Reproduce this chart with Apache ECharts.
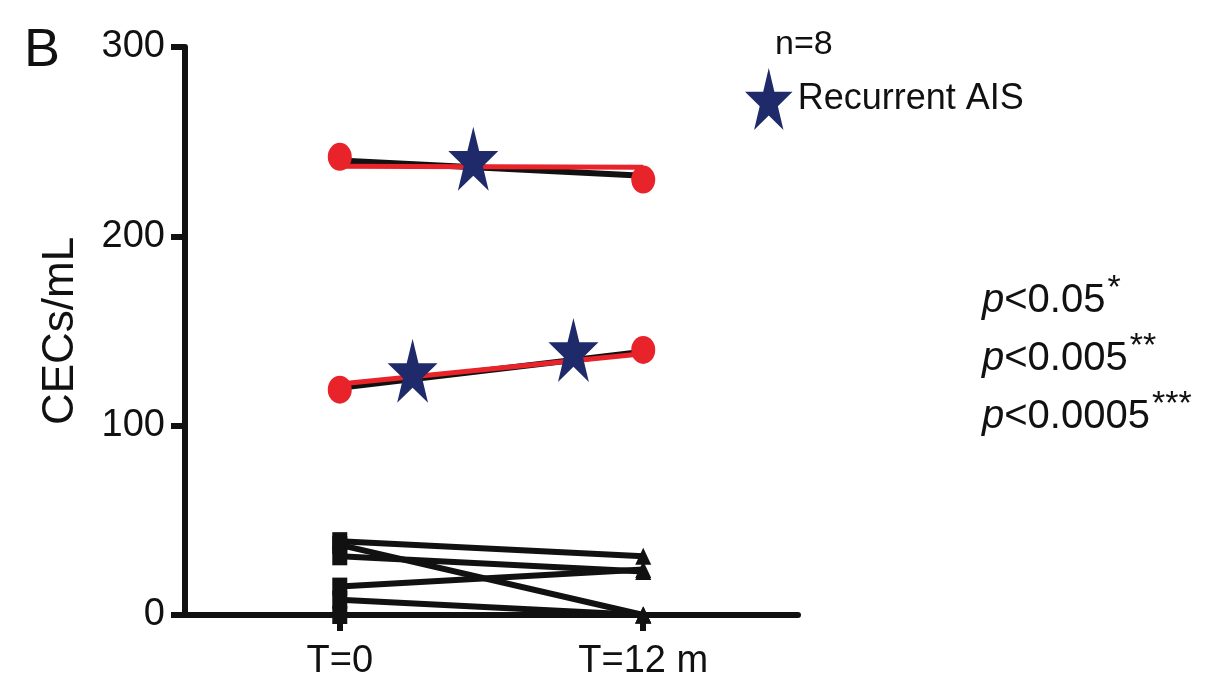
<!DOCTYPE html>
<html lang="en">
<head>
<meta charset="UTF-8">
<title>CECs/mL</title>
<style>
    * { margin: 0; padding: 0; }
    #chart { width: 1227px; height: 682px; background: #fff; }
</style>
<script src="https://cdn.jsdelivr.net/npm/echarts@6/dist/echarts.min.js"></script>
</head>
<body>
<div id="chart"></div>
<script>
// time points (x = 0, 1)
var timeLabels = ['T=0', 'T=12 m'];
var yTicks = [0, 100, 200, 300];

// black patient lines: [T=0, T=12 m]
var blackPairs = [
    [39, 31],
    [37, 0],
    [31, 23],
    [15, 24],
    [8, 0],
    [0, 0]
];
// recurrent AIS patients: black individual line + red overlay + red end dots
var recurBlack = [[240, 232], [120, 139]];
var recurRed = [[237, 236.5], [122, 138]];
var recurDots = [[242, 230], [119, 140]];
// stars (x position between time points, value)
var starX = [0.44, 0.24, 0.77];
var starY = [241, 129, 140];

var FONT = 'Liberation Sans, Arial, sans-serif';
// five-point star, drawn taller than wide like the reference
var STAR = 'path://M50,0 L61.8,49.7 L100,49.7 L69.1,80.5 L80.9,130.4 L50,99.7 L19.1,130.4 L30.9,80.5 L0,49.7 L38.2,49.7 Z';
var chart = echarts.init(document.getElementById('chart'));

var series = [];
blackPairs.forEach(function (p) {
    series.push({
        type: 'line',
        data: [
            { value: [0, p[0]], symbol: 'rect', symbolSize: [15, 18] },
            { value: [1, p[1]], symbol: 'triangle', symbolSize: [16, 17] }
        ],
        lineStyle: { color: '#111', width: 6 },
        itemStyle: { color: '#111' },
        z: 3, silent: true
    });
});
recurBlack.forEach(function (p) {
    series.push({
        type: 'line', data: [[0, p[0]], [1, p[1]]], symbol: 'none',
        lineStyle: { color: '#111', width: 6 }, z: 3, silent: true
    });
});
recurRed.forEach(function (p) {
    series.push({
        type: 'line', data: [[0, p[0]], [1, p[1]]], symbol: 'none',
        lineStyle: { color: '#e8232a', width: 5 }, z: 4, silent: true
    });
});
recurDots.forEach(function (p) {
    series.push({
        type: 'scatter', data: [[0, p[0]], [1, p[1]]], symbol: 'circle',
        symbolSize: [24, 28], itemStyle: { color: '#e8232a', opacity: 1 }, z: 5, silent: true
    });
});
series.push({
    name: 'Recurrent AIS',
    type: 'scatter',
    data: starX.map(function (x, i) { return [x, starY[i]]; }),
    symbol: STAR,
    symbolSize: [50, 64],
    itemStyle: { color: '#1f2a6b', opacity: 1 },
    z: 6, silent: true
});

var option = {
    animation: false,
    textStyle: { fontFamily: FONT },
    grid: { left: 185, top: 47, width: 613, height: 568 },
    legend: {
        left: 740, top: 63,
        itemWidth: 48, itemHeight: 62, itemGap: 14,
        icon: STAR,
        textStyle: { fontSize: 36, color: '#111', fontFamily: FONT },
        data: ['Recurrent AIS']
    },
    xAxis: {
        type: 'value', min: -0.51, max: 1.51,
        splitLine: { show: false },
        axisLine: { onZero: false, lineStyle: { color: '#111', width: 6 } },
        axisTick: { customValues: [0, 1], length: 16, lineStyle: { color: '#111', width: 6 } },
        axisLabel: {
            customValues: [0, 1], margin: 28, fontSize: 38, color: '#111', fontFamily: FONT,
            formatter: function (v) { return timeLabels[Math.round(v)]; }
        }
    },
    yAxis: {
        type: 'value', min: yTicks[0], max: yTicks[yTicks.length - 1], interval: 100,
        name: 'CECs/mL', nameLocation: 'middle', nameRotate: 90, nameGap: 102,
        nameTextStyle: { fontSize: 44, color: '#111', fontFamily: FONT },
        splitLine: { show: false },
        axisLine: { onZero: false, lineStyle: { color: '#111', width: 6 } },
        axisTick: { length: 14, lineStyle: { color: '#111', width: 6 } },
        axisLabel: { margin: 20, fontSize: 38, color: '#111', fontFamily: FONT }
    },
    graphic: [
        { type: 'text', left: 24, top: 24, style: { text: 'B', fontSize: 54, fill: '#111', fontFamily: FONT } },
        { type: 'text', left: 775, top: 28, style: { text: 'n=8', fontSize: 34, fill: '#111', fontFamily: FONT } },
        {
            type: 'text', left: 982, top: 272,
            style: {
                text: '{i|p}<0.05{s|*}\n{i|p}<0.005{s|**}\n{i|p}<0.0005{s|***}',
                fontSize: 40, lineHeight: 58, fill: '#111', fontFamily: FONT,
                rich: {
                    i: { fontStyle: 'italic', fontSize: 40, fontFamily: FONT },
                    s: { fontSize: 34, verticalAlign: 'top', padding: [0, 0, 6, 2], fontFamily: FONT }
                }
            }
        }
    ],
    series: series
};
chart.setOption(option);
</script>
</body>
</html>
